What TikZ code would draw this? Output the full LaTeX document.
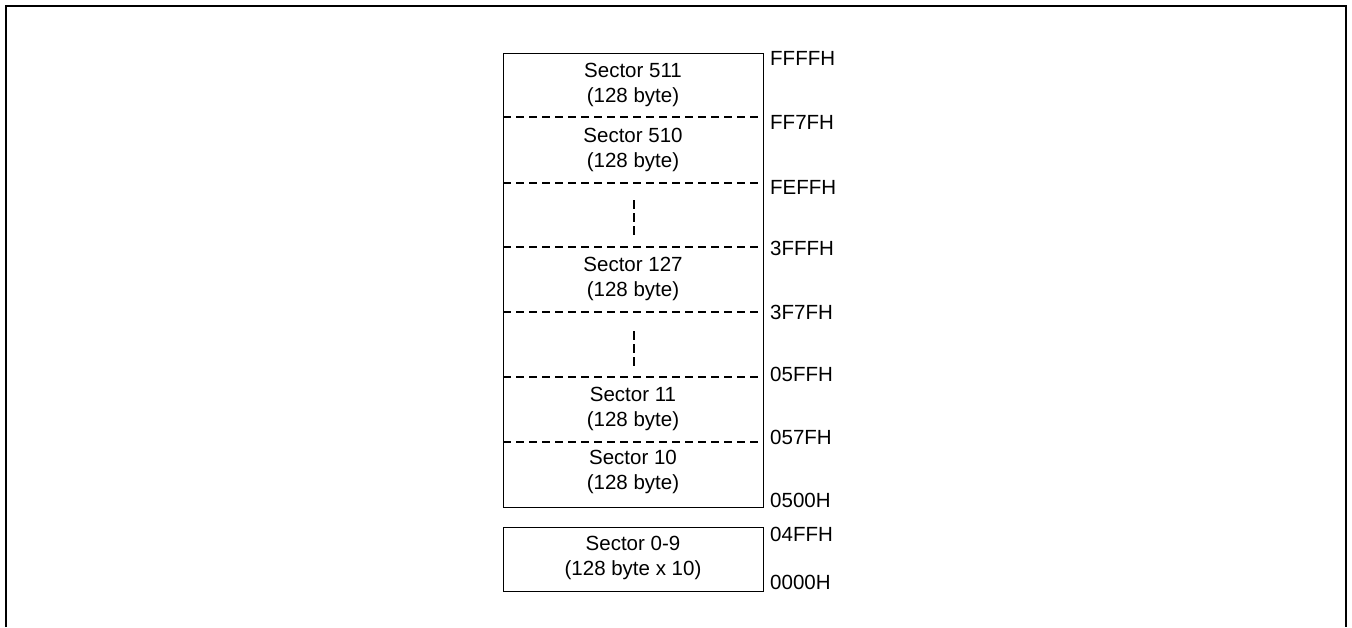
\documentclass[tikz,border=0pt]{standalone}
\usepackage{fontspec}
\setmainfont{Liberation Sans}
\begin{document}
\begin{tikzpicture}[x=1pt,y=-1pt,
  boxline/.style={draw=black,line width=1.3pt},
  divider/.style={draw=black,line width=1.1pt,dash pattern=on 8pt off 5pt},
  vdots/.style={draw=black,line width=1.3pt,dash pattern=on 9pt off 4pt},
  sectortxt/.style={align=center,font=\fontsize{20.5}{25}\selectfont,inner sep=0pt},
  addr/.style={anchor=west,font=\fontsize{20.5}{24}\selectfont,inner sep=0pt}]
\useasboundingbox (0,0) rectangle (1352,627);
% outer frame (open at bottom)
\draw[line width=2pt] (6,627) -- (6,6) -- (1346,6) -- (1346,627);
% main box
\node[boxline,minimum width=260pt,minimum height=454pt,anchor=north west,inner sep=0pt] (main) at (503,53) {};
% lower box
\node[boxline,minimum width=260pt,minimum height=64pt,anchor=north west,inner sep=0pt] (low) at (503,527) {};
% divider coordinates
\foreach \n/\y in {1/117,2/183,3/247,4/312,5/377,6/442}{
  \coordinate (dl\n) at (503,\y);
  \coordinate (dr\n) at (763,\y);
  \draw[divider] (dl\n) -- (dr\n);
}
% vertical ellipsis dashes
\coordinate (va1) at (634,200); \coordinate (vb1) at (634,236);
\coordinate (va2) at (634,331); \coordinate (vb2) at (634,366);
\draw[vdots] (va1) -- (vb1);
\draw[vdots] (va2) -- (vb2);
% sector texts
\node[sectortxt] (s511) at (633,85) {Sector 511\\(128 byte)};
\node[sectortxt] (s510) at (633,150) {Sector 510\\(128 byte)};
\node[sectortxt] (s127) at (633,279) {Sector 127\\(128 byte)};
\node[sectortxt] (s11) at (633,409) {Sector 11\\(128 byte)};
\node[sectortxt] (s10) at (633,472) {Sector 10\\(128 byte)};
\node[sectortxt] (s09) at (633,558) {Sector 0-9\\(128 byte x 10)};
% address labels
\node[addr] (a1) at (770,58) {FFFFH};
\node[addr] (a2) at (770,122) {FF7FH};
\node[addr] (a3) at (770,187) {FEFFH};
\node[addr] (a4) at (770,248) {3FFFH};
\node[addr] (a5) at (770,312) {3F7FH};
\node[addr] (a6) at (770,374) {05FFH};
\node[addr] (a7) at (770,437) {057FH};
\node[addr] (a8) at (770,500) {0500H};
\node[addr] (a9) at (770,534) {04FFH};
\node[addr] (a10) at (770,582) {0000H};
\end{tikzpicture}
\end{document}
